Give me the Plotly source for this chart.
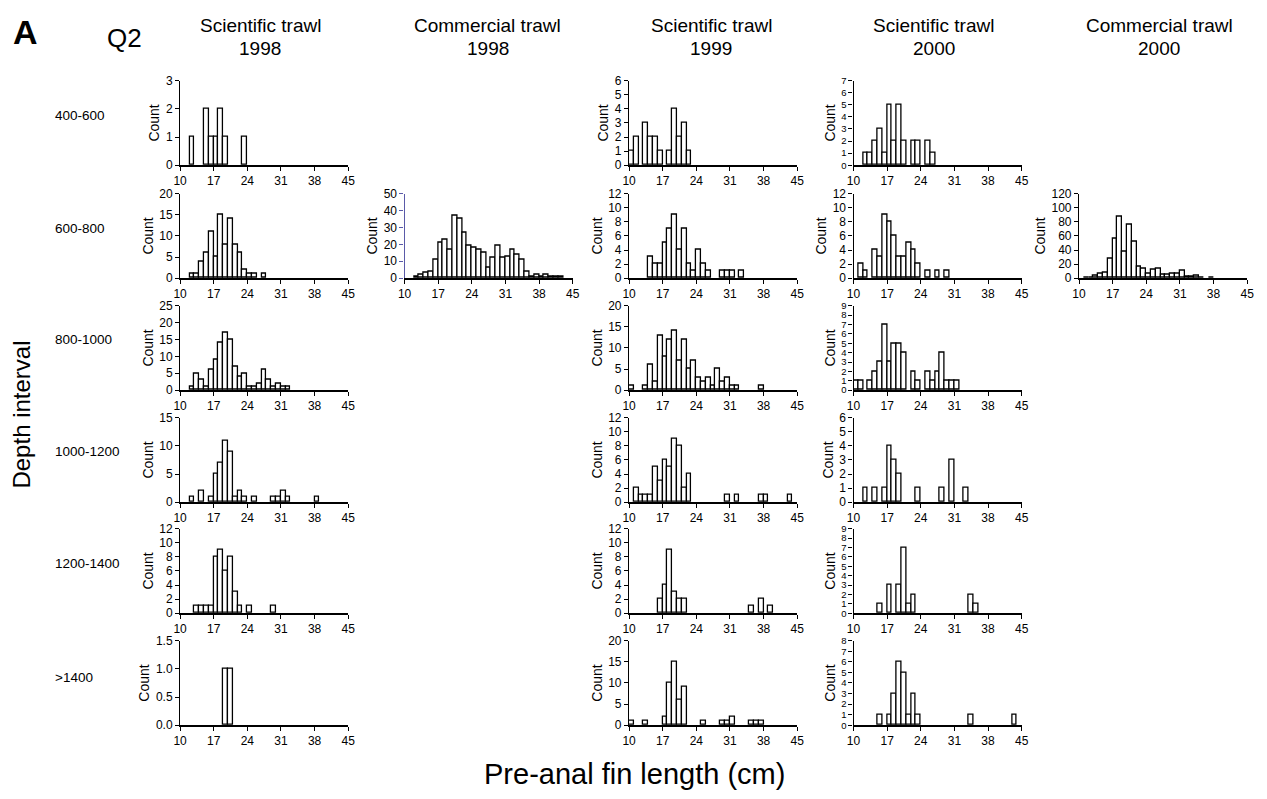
import plotly.graph_objects as go

# ---------------- data: counts per 1-cm bin, bins 10-11 ... 44-45 ----------------
bin_left = list(range(10, 45))
x_ticks = [10, 17, 24, 31, 38, 45]

col_title_1 = ["Scientific trawl", "Commercial trawl", "Scientific trawl", "Scientific trawl", "Commercial trawl"]
col_title_2 = ["1998", "1998", "1999", "2000", "2000"]
row_labels = ["400-600", "600-800", "800-1000", "1000-1200", "1200-1400", ">1400"]

# Scientific trawl 1998
sci98_400_600 = [0,0,1,0,0,2,1, 1,2,1,0,0,0,1, 0,0,0,0,0,0,0, 0,0,0,0,0,0,0, 0,0,0,0,0,0,0]
sci98_600_800 = [0,0,1,1,4,6,11, 5,15,8,14,8,6,2, 1,1,0,1,0,0,0, 0,0,0,0,0,0,0, 0,0,0,0,0,0,0]
sci98_800_1000 = [0,0,1,5,3,1,6, 9,14,17,15,7,4,5, 1,1,2,6,3,1,2, 1,1,0,0,0,0,0, 0,0,0,0,0,0,0]
sci98_1000_1200 = [0,0,1,0,2,0,1, 5,7,11,9,1,2,1, 0,1,0,0,0,1,1, 2,1,0,0,0,0,0, 1,0,0,0,0,0,0]
sci98_1200_1400 = [0,0,0,1,1,1,1, 8,9,6,8,3,1,0, 1,0,0,0,0,1,0, 0,0,0,0,0,0,0, 0,0,0,0,0,0,0]
sci98_1400 = [0,0,0,0,0,0,0, 0,0,1,1,0,0,0, 0,0,0,0,0,0,0, 0,0,0,0,0,0,0, 0,0,0,0,0,0,0]

# Commercial trawl 1998
com98_600_800 = [0,0,1,2,3,4,11, 21,23,17,37,35,27,19, 18,17,15,6,12,19,12, 13,17,14,11,4,1,2, 1,2,1,1,1,0,0]

# Scientific trawl 1999
sci99_400_600 = [1,2,0,3,2,2,1, 0,1,4,2,3,1,0, 0,0,0,0,0,0,0, 0,0,0,0,0,0,0, 0,0,0,0,0,0,0]
sci99_600_800 = [0,0,0,0,3,2,2, 5,7,9,4,7,2,1, 4,2,1,0,0,1,1, 1,0,1,0,0,0,0, 0,0,0,0,0,0,0]
sci99_800_1000 = [1,0,0,1,6,2,13, 8,12,14,7,12,5,7, 3,2,3,1,5,2,3, 1,1,0,0,0,0,1, 0,0,0,0,0,0,0]
sci99_1000_1200 = [0,2,1,1,1,5,3, 6,5,9,8,2,4,0, 0,0,0,0,0,0,1, 0,1,0,0,0,0,1, 1,0,0,0,0,1,0]
sci99_1200_1400 = [0,0,0,0,0,0,2, 4,9,3,2,2,0,0, 0,0,0,0,0,0,0, 0,0,0,0,1,0,2, 0,1,0,0,0,0,0]
sci99_1400 = [1,0,0,1,0,0,0, 2,10,15,6,9,0,0, 0,1,0,0,0,1,1, 2,0,0,0,1,1,1, 0,0,0,0,0,0,0]

# Scientific trawl 2000
sci00_400_600 = [0,0,1,1,2,3,1, 5,2,5,2,0,2,2, 0,2,1,0,0,0,0, 0,0,0,0,0,0,0, 0,0,0,0,0,0,0]
sci00_600_800 = [0,2,1,0,4,3,9, 8,6,3,3,5,4,2, 0,1,0,1,0,1,0, 0,0,0,0,0,0,0, 0,0,0,0,0,0,0]
sci00_800_1000 = [1,1,0,1,2,3,7, 3,5,5,4,0,2,1, 0,2,1,2,4,1,1, 1,0,0,0,0,0,0, 0,0,0,0,0,0,0]
sci00_1000_1200 = [0,0,1,0,1,0,1, 4,3,2,0,0,0,1, 0,0,0,0,1,0,3, 0,0,1,0,0,0,0, 0,0,0,0,0,0,0]
sci00_1200_1400 = [0,0,0,0,0,1,0, 3,0,3,7,1,2,0, 0,0,0,0,0,0,0, 0,0,0,2,1,0,0, 0,0,0,0,0,0,0]
sci00_1400 = [0,0,0,0,0,1,0, 1,3,6,5,1,3,1, 0,0,0,0,0,0,0, 0,0,0,1,0,0,0, 0,0,0,0,0,1,0]

# Commercial trawl 2000
com00_600_800 = [0,1,1,3,7,8,27, 56,87,38,76,52,16,13, 6,12,14,5,5,6,6, 10,2,2,3,1,0,1, 0,0,0,0,0,0,0]

# (row, col, counts, y max, y tick step, tick format)
panels = [
    (0, 0, sci98_400_600, 3, 1, ""),
    (1, 0, sci98_600_800, 20, 5, ""),
    (2, 0, sci98_800_1000, 25, 5, ""),
    (3, 0, sci98_1000_1200, 15, 5, ""),
    (4, 0, sci98_1200_1400, 12, 2, ""),
    (5, 0, sci98_1400, 1.5, 0.5, ".1f"),
    (1, 1, com98_600_800, 50, 10, ""),
    (0, 2, sci99_400_600, 6, 1, ""),
    (1, 2, sci99_600_800, 12, 2, ""),
    (2, 2, sci99_800_1000, 20, 5, ""),
    (3, 2, sci99_1000_1200, 12, 2, ""),
    (4, 2, sci99_1200_1400, 12, 2, ""),
    (5, 2, sci99_1400, 20, 5, ""),
    (0, 3, sci00_400_600, 7, 1, ""),
    (1, 3, sci00_600_800, 12, 2, ""),
    (2, 3, sci00_800_1000, 9, 1, ""),
    (3, 3, sci00_1000_1200, 6, 1, ""),
    (4, 3, sci00_1200_1400, 9, 1, ""),
    (5, 3, sci00_1400, 8, 1, ""),
    (1, 4, com00_600_800, 120, 20, ""),
]

# ---------------- layout geometry (pixels) ----------------
W, H = 1267, 799
col_x0 = [175, 402, 629, 856, 1084]
col_w = 170
row_top = [75, 190, 304, 418, 531, 645]
row_h = 86
row_label_y = [110, 225, 338, 452, 566, 682]
title_centers = [256, 486, 712, 937, 1165]
FONT = "Liberation Sans, Arial, sans-serif"

fig = go.Figure()
layout = {}
for k, (r, c, counts, ymax, step, fmt) in enumerate(panels, start=1):
    xs = [b + 0.5 for b, v in zip(bin_left, counts) if v > 0]
    ys = [v for v in counts if v > 0]
    sfx = "" if k == 1 else str(k)
    fig.add_trace(go.Bar(
        x=xs, y=ys, width=1, xaxis="x" + sfx, yaxis="y" + sfx,
        marker=dict(color="white", line=dict(color="black", width=1.3)),
        showlegend=False, hoverinfo="x+y"))
    x0 = col_x0[c] / W
    x1 = (col_x0[c] + col_w) / W
    y1 = 1 - row_top[r] / H
    y0 = 1 - (row_top[r] + row_h) / H
    axcol = "#5a5aa8" if (r == 1 and c == 1) else "black"
    small = (step == 1 and ymax >= 7)
    layout["xaxis" + sfx] = dict(
        domain=[x0, x1], anchor="y" + sfx, range=[10, 45], tickvals=x_ticks,
        showline=True, linecolor="black", linewidth=1.8, ticks="outside",
        ticklen=4, tickwidth=1, tickcolor="black", showgrid=False, zeroline=False,
        tickfont=dict(family=FONT, size=12, color="black"), fixedrange=True)
    layout["yaxis" + sfx] = dict(
        domain=[y0, y1], anchor="x" + sfx, range=[0, ymax], dtick=step, tick0=0,
        tickformat=fmt, showline=True, linecolor=axcol, linewidth=1.2,
        ticks="outside", ticklen=4, tickwidth=1, tickcolor=axcol, showgrid=False,
        zeroline=False, tickfont=dict(family=FONT, size=9.5 if small else 12, color="black"),
        title=dict(text="Count", font=dict(family=FONT, size=14, color="black"), standoff=2),
        fixedrange=True)

annotations = []
for t1, t2, cx in zip(col_title_1, col_title_2, title_centers):
    annotations.append(dict(text=t1, x=cx / W, y=1 - 19 / H, xref="paper", yref="paper",
                            xanchor="center", yanchor="middle", showarrow=False,
                            font=dict(family=FONT, size=19, color="black")))
    annotations.append(dict(text=t2, x=cx / W, y=1 - 42 / H, xref="paper", yref="paper",
                            xanchor="center", yanchor="middle", showarrow=False,
                            font=dict(family=FONT, size=19, color="black")))
for lab, ly in zip(row_labels, row_label_y):
    annotations.append(dict(text=lab, x=47 / W, y=1 - ly / H, xref="paper", yref="paper",
                            xanchor="left", yanchor="middle", showarrow=False,
                            font=dict(family=FONT, size=13.5, color="black")))
annotations.append(dict(text="<b>A</b>", x=4 / W, y=1 - 25 / H, xref="paper", yref="paper",
                        xanchor="left", yanchor="middle", showarrow=False,
                        font=dict(family=FONT, size=34, color="black")))
annotations.append(dict(text="Q2", x=99 / W, y=1 - 32 / H, xref="paper", yref="paper",
                        xanchor="left", yanchor="middle", showarrow=False,
                        font=dict(family=FONT, size=26, color="black")))
annotations.append(dict(text="Depth interval", x=15 / W, y=1 - 415 / H, xref="paper", yref="paper",
                        xanchor="center", yanchor="middle", showarrow=False, textangle=-90,
                        font=dict(family=FONT, size=24, color="black")))
annotations.append(dict(text="Pre-anal fin length (cm)", x=635 / W, y=1 - 781 / H, xref="paper",
                        yref="paper", xanchor="center", yanchor="middle", showarrow=False,
                        font=dict(family=FONT, size=29, color="black")))

fig.update_layout(
    width=W, height=H, margin=dict(l=0, r=0, t=0, b=0),
    paper_bgcolor="white", plot_bgcolor="white", bargap=0,
    annotations=annotations, **layout)

fig.write_html("out.html", config={"displayModeBar": False})
